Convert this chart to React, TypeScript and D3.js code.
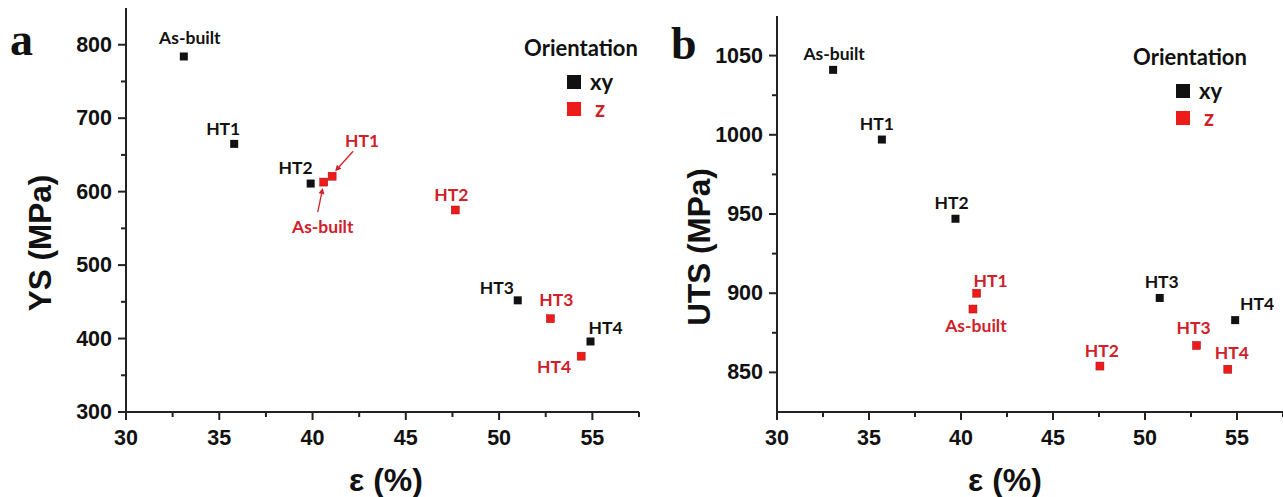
import React from "react";
import * as d3 from "d3";

// ---- Data ----
const conditions = ["As-built", "HT1", "HT2", "HT3", "HT4"];
const elongXY = [33.1, 35.8, 39.9, 51.0, 54.9];
const ysXY = [784, 665, 611, 452, 396];
const elongZ_YS = [40.6, 41.05, 47.65, 52.75, 54.4];
const ysZ = [613, 621, 575, 427, 376];

const elongXY_UTS = [33.05, 35.7, 39.7, 50.8, 54.9];
const utsXY = [1041, 997, 947, 897, 883];
const elongZ_UTS = [40.65, 40.85, 47.55, 52.8, 54.5];
const utsZ = [890, 900, 854, 867, 852];

const xTicks = [30, 35, 40, 45, 50, 55];
const ysTicks = [300, 400, 500, 600, 700, 800];
const utsTicks = [850, 900, 950, 1000, 1050];
const legendItems = ["xy", "z"];

// ---- Layout (label offsets in px relative to marker) ----
const labelOffA_xy = [[6, -19], [-11, -15], [-15, -16], [-21, -13], [15, -14]];
const labelOffA_z = [[-1, 44], [30, -36], [-4, -16], [6, -19], [-27, 10]];
const arrowsA_z: Record<number, number[]> = { 0: [-6, 30, -1, 6], 1: [21, -25, 3, -5] };
const labelOffB_xy = [[1, -16], [-5, -16], [-4, -16], [2, -16], [22, -17]];
const labelOffB_z = [[3, 16], [14, -13], [2, -16], [-3, -18], [4, -17]];

const BLACK = "#111";
const RED = "#ee1b1b";
const RED_TXT = "#cf2129";
const TICK_FONT = "'Liberation Sans', Arial, sans-serif";
const LABEL_FONT = "Lato, 'Open Sans', sans-serif";

type PanelProps = {
  letter: string;
  letterPos: [number, number];
  xRange: [number, number];
  yRange: [number, number];
  yDomain: [number, number];
  yTicks: number[];
  yLabel: string;
  yLabelPos: [number, number];
  xLabelX: number;
  xyX: number[];
  xyY: number[];
  zX: number[];
  zY: number[];
  offXY: number[][];
  offZ: number[][];
  arrows: Record<number, number[]>;
  legendPos: [number, number];
};

function Panel(p: PanelProps) {
  const x = d3.scaleLinear().domain([30, 57.5]).range(p.xRange);
  const y = d3.scaleLinear().domain(p.yDomain).range(p.yRange);
  const step = p.yTicks[1] - p.yTicks[0];
  const yMinor = d3.range(p.yTicks[0] + step / 2, p.yDomain[1], step).filter((v) => v <= p.yDomain[1]);
  const xMinor = d3.range(32.5, 57.6, 5);
  const x0 = p.xRange[0];
  const y0 = p.yRange[0];
  const sq = 8;
  return (
    <g>
      <text x={p.letterPos[0]} y={p.letterPos[1]} fontFamily="'Liberation Serif', 'DejaVu Serif', serif" fontWeight="bold" fontSize={46} fill={BLACK}>
        {p.letter}
      </text>
      {/* axes */}
      <line x1={x0} x2={x0} y1={p.yRange[1]} y2={y0 + 1} stroke="#222" strokeWidth={2} />
      <line x1={x0 - 1} x2={p.xRange[1]} y1={y0} y2={y0} stroke="#222" strokeWidth={2} />
      {p.yTicks.map((t) => (
        <g key={"yt" + t}>
          <line x1={x0 - 8} x2={x0} y1={y(t)} y2={y(t)} stroke="#222" strokeWidth={2} />
          <text x={x0 - 14} y={y(t)} textAnchor="end" dominantBaseline="central" fontFamily={TICK_FONT} fontWeight="bold" fontSize={21.5} fill={BLACK}>
            {t}
          </text>
        </g>
      ))}
      {yMinor.map((t) => (
        <line key={"ym" + t} x1={x0 - 5} x2={x0} y1={y(t)} y2={y(t)} stroke="#222" strokeWidth={2} />
      ))}
      {xTicks.map((t) => (
        <g key={"xt" + t}>
          <line x1={x(t)} x2={x(t)} y1={y0} y2={y0 + 8} stroke="#222" strokeWidth={2} />
          <text x={x(t)} y={y0 + 26} textAnchor="middle" dominantBaseline="central" fontFamily={TICK_FONT} fontWeight="bold" fontSize={21.5} fill={BLACK}>
            {t}
          </text>
        </g>
      ))}
      {xMinor.map((t) => (
        <line key={"xm" + t} x1={x(t)} x2={x(t)} y1={y0} y2={y0 + 5} stroke="#222" strokeWidth={2} />
      ))}
      <text x={p.xLabelX} y={y0 + 68} textAnchor="middle" dominantBaseline="central" fontFamily={TICK_FONT} fontWeight="bold" fontSize={32} fill={BLACK}>
        ε (%)
      </text>
      <text transform={`translate(${p.yLabelPos[0]},${p.yLabelPos[1]}) rotate(-90)`} textAnchor="middle" dominantBaseline="central" fontFamily={TICK_FONT} fontWeight="bold" fontSize={31.5} fill={BLACK}>
        {p.yLabel}
      </text>
      {/* arrows */}
      {Object.entries(p.arrows).map(([k, a]) => {
        const i = +k;
        const mx = x(p.zX[i]);
        const my = y(p.zY[i]);
        const sx = mx + a[0], sy = my + a[1], ex = mx + a[2], ey = my + a[3];
        const ang = Math.atan2(ey - sy, ex - sx);
        const L = 6, W = 3;
        const bx = ex - L * Math.cos(ang), by = ey - L * Math.sin(ang);
        const pts = `${ex},${ey} ${bx - W * Math.sin(ang)},${by + W * Math.cos(ang)} ${bx + W * Math.sin(ang)},${by - W * Math.cos(ang)}`;
        return (
          <g key={"ar" + k}>
            <line x1={sx} y1={sy} x2={bx} y2={by} stroke={RED_TXT} strokeWidth={1.3} />
            <polygon points={pts} fill={RED_TXT} />
          </g>
        );
      })}
      {/* xy points */}
      {conditions.map((c, i) => (
        <g key={"xy" + c}>
          <rect x={x(p.xyX[i]) - sq / 2} y={y(p.xyY[i]) - sq / 2} width={sq} height={sq} fill={BLACK} />
          <text x={x(p.xyX[i]) + p.offXY[i][0]} y={y(p.xyY[i]) + p.offXY[i][1]} textAnchor="middle" dominantBaseline="central" fontFamily={LABEL_FONT} fontWeight="bold" fontSize={17.5} fill={BLACK}>
            {c}
          </text>
        </g>
      ))}
      {conditions.map((c, i) => (
        <g key={"z" + c}>
          <rect x={x(p.zX[i]) - sq / 2} y={y(p.zY[i]) - sq / 2} width={sq} height={sq} fill={RED} stroke="#a01010" strokeWidth={0.5} />
          <text x={x(p.zX[i]) + p.offZ[i][0]} y={y(p.zY[i]) + p.offZ[i][1]} textAnchor="middle" dominantBaseline="central" fontFamily={LABEL_FONT} fontWeight="bold" fontSize={17.5} fill={RED_TXT}>
            {c}
          </text>
        </g>
      ))}
      {/* legend */}
      <text x={p.legendPos[0]} y={p.legendPos[1]} textAnchor="middle" dominantBaseline="central" fontFamily={LABEL_FONT} fontWeight="bold" fontSize={22} fill={BLACK}>
        Orientation
      </text>
      {legendItems.map((l, i) => (
        <g key={"lg" + l}>
          <rect x={p.legendPos[0] - 14} y={p.legendPos[1] + 28 + i * 27} width={14} height={14} fill={i === 0 ? BLACK : RED} />
          <text x={p.legendPos[0] + 9 + i * 5} y={p.legendPos[1] + 34 + i * 27} dominantBaseline="central" fontFamily={LABEL_FONT} fontWeight="bold" fontSize={22} fill={i === 0 ? BLACK : RED_TXT}>
            {l}
          </text>
        </g>
      ))}
    </g>
  );
}

export default function App() {
  return (
    <svg width={1283} height={497} style={{ position: "absolute", left: 0, top: 0, background: "#fff" }}>
      <rect width={1283} height={497} fill="#fff" />
      <Panel
        letter="a"
        letterPos={[10, 55]}
        xRange={[126, 639]}
        yRange={[412, 8]}
        yDomain={[300, 850]}
        yTicks={ysTicks}
        yLabel="YS (MPa)"
        yLabelPos={[40, 243]}
        xLabelX={386}
        xyX={elongXY}
        xyY={ysXY}
        zX={elongZ_YS}
        zY={ysZ}
        offXY={labelOffA_xy}
        offZ={labelOffA_z}
        arrows={arrowsA_z}
        legendPos={[581, 47]}
      />
      <Panel
        letter="b"
        letterPos={[671, 59]}
        xRange={[777, 1283]}
        yRange={[412, 16]}
        yDomain={[825, 1075]}
        yTicks={utsTicks}
        yLabel="UTS (MPa)"
        yLabelPos={[699, 247]}
        xLabelX={1005}
        xyX={elongXY_UTS}
        xyY={utsXY}
        zX={elongZ_UTS}
        zY={utsZ}
        offXY={labelOffB_xy}
        offZ={labelOffB_z}
        arrows={{}}
        legendPos={[1190, 56]}
      />
    </svg>
  );
}
